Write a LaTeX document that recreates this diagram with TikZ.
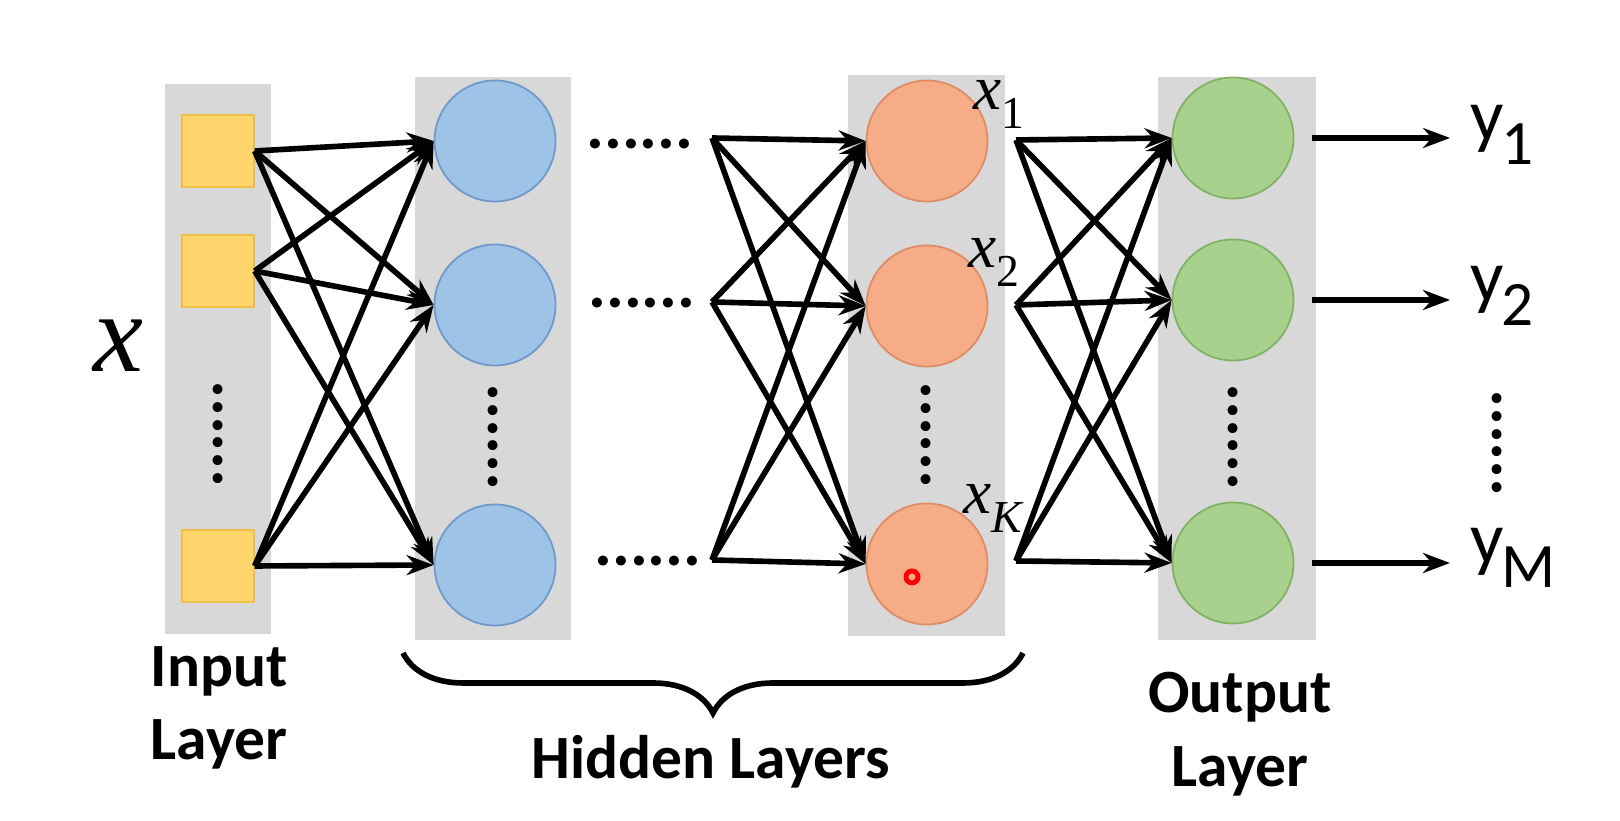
\documentclass[tikz,border=0pt]{standalone}
\usepackage{fontspec}
\setmainfont{Carlito}
\newfontfamily\timesfont{Liberation Serif}
\usetikzlibrary{arrows.meta,decorations.pathreplacing}

\definecolor{panelgray}{RGB}{216,216,216}
\definecolor{infill}{RGB}{255,214,110}
\definecolor{inborder}{RGB}{240,192,70}
\definecolor{bluefill}{RGB}{157,195,230}
\definecolor{blueborder}{RGB}{112,152,202}
\definecolor{orangefill}{RGB}{246,172,135}
\definecolor{orangeborder}{RGB}{222,140,100}
\definecolor{greenfill}{RGB}{169,209,142}
\definecolor{greenborder}{RGB}{128,178,100}

\newcommand{\outsub}[1]{\kern-0.04em\raisebox{-0.32em}{\fontsize{18}{18}\selectfont #1}}
\newcommand{\unitsub}[1]{\raisebox{-0.3em}{\upshape\fontsize{13}{13}\selectfont #1}}

\begin{document}
\begin{tikzpicture}[
    panel/.style={fill=panelgray},
    inunit/.style={
        rectangle,
        draw=inborder,
        fill=infill,
        minimum size=0.72cm,
        inner sep=0pt
    },
    neuron/.style={
        circle,
        minimum size=1.21cm,
        inner sep=0pt,
        line width=0.5pt
    },
    wire/.style={-{Stealth[length=0.27cm,width=0.2cm]}, line width=1.6pt},
    dotrow/.style={font=\bfseries\fontsize{19}{19}\selectfont, inner sep=0pt},
    layername/.style={font=\bfseries\fontsize{17.5}{21}\selectfont, align=center},
    outname/.style={font=\fontsize{21}{21}\selectfont, anchor=base west, inner sep=0pt},
    unitname/.style={font=\timesfont\itshape\fontsize{18}{18}\selectfont, anchor=base west, inner sep=0pt}
]
\useasboundingbox (0,0) rectangle (16.2,8.21);

% grey layer panels
\fill[panel] (1.65,1.87) rectangle (2.71,7.37);
\fill[panel] (4.15,1.81) rectangle (5.71,7.44);
\fill[panel] (8.48,1.85) rectangle (10.05,7.46);
\fill[panel] (11.58,1.81) rectangle (13.16,7.44);

% input layer
\node[font=\timesfont\itshape\fontsize{32}{32}\selectfont] (xin) at (1.18,4.75) {x};
\node[inunit] (in1) at (2.18,6.70) {};
\node[inunit] (in2) at (2.18,5.50) {};
\node[inunit] (in3) at (2.18,2.55) {};
\node[dotrow, rotate=90] (indots) at (2.18,3.87) {......};

% first hidden layer
\node[neuron, draw=blueborder, fill=bluefill] (b1) at (4.95,6.80) {};
\node[neuron, draw=blueborder, fill=bluefill] (b2) at (4.95,5.16) {};
\node[neuron, draw=blueborder, fill=bluefill] (b3) at (4.95,2.56) {};
\node[dotrow, rotate=90] (bdots) at (4.93,3.84) {......};

\node[dotrow] (skip1) at (6.40,6.77) {......};
\node[dotrow] (skip2) at (6.42,5.18) {......};
\node[dotrow] (skip3) at (6.48,2.60) {......};
\coordinate (h1) at (7.12,6.83);
\coordinate (h2) at (7.12,5.19);
\coordinate (h3) at (7.12,2.61);

% last hidden layer
\node[neuron, draw=orangeborder, fill=orangefill] (o1) at (9.27,6.80) {};
\node[neuron, draw=orangeborder, fill=orangefill] (o2) at (9.27,5.15) {};
\node[neuron, draw=orangeborder, fill=orangefill] (o3) at (9.27,2.57) {};
\node[dotrow, rotate=90] (odots) at (9.26,3.86) {......};
\draw[red, line width=1.4pt] (9.12,2.44) circle (0.06);
\node[unitname] (x1) at (9.73,7.11) {x\unitsub{1}};
\node[unitname] (x2) at (9.68,5.53) {x\unitsub{2}};
\node[unitname] (xK) at (9.63,3.07) {x\unitsub{\itshape K}};
\coordinate (s1) at (10.16,6.81);
\coordinate (s2) at (10.16,5.16);
\coordinate (s3) at (10.16,2.60);

% output layer
\node[neuron, draw=greenborder, fill=greenfill] (g1) at (12.33,6.83) {};
\node[neuron, draw=greenborder, fill=greenfill] (g2) at (12.33,5.21) {};
\node[neuron, draw=greenborder, fill=greenfill] (g3) at (12.33,2.58) {};
\node[dotrow, rotate=90] (gdots) at (12.33,3.84) {......};

\node[outname] (y1) at (14.70,6.80) {y\outsub{1}};
\node[outname] (y2) at (14.70,5.19) {y\outsub{2}};
\node[outname] (yM) at (14.70,2.57) {y\outsub{M}};
\node[dotrow, rotate=90] (ydots) at (14.97,3.78) {......};

% connections
\path (in1.east) edge[wire] (b1.west) edge[wire] (b2.west) edge[wire] (b3.west);
\path (in2.east) edge[wire] (b1.west) edge[wire] (b2.west) edge[wire] (b3.west);
\path (in3.east) edge[wire] (b1.west) edge[wire] (b2.west) edge[wire] (b3.west);

\path (h1) edge[wire] (o1.west) edge[wire] (o2.west) edge[wire] (o3.west);
\path (h2) edge[wire] (o1.west) edge[wire] (o2.west) edge[wire] (o3.west);
\path (h3) edge[wire] (o1.west) edge[wire] (o2.west) edge[wire] (o3.west);

\path (s1) edge[wire] (g1.west) edge[wire] (g2.west) edge[wire] (g3.west);
\path (s2) edge[wire] (g1.west) edge[wire] (g2.west) edge[wire] (g3.west);
\path (s3) edge[wire] (g1.west) edge[wire] (g2.west) edge[wire] (g3.west);

\draw[wire, shorten <=0.18cm, shorten >=0.2cm] (g1.east) -- (g1.east -| y1.west);
\draw[wire, shorten <=0.18cm, shorten >=0.2cm] (g2.east) -- (g2.east -| y2.west);
\draw[wire, shorten <=0.18cm, shorten >=0.2cm] (g3.east) -- (g3.east -| yM.west);

% layer names
\draw[decorate, decoration={brace, mirror, amplitude=0.6cm}, line width=1.6pt]
    (4.03,1.68) -- (10.23,1.68);
\node[layername] (inname) at (2.19,1.13) {Input\\Layer};
\node[layername] (hidname) at (7.11,0.59) {Hidden Layers};
\node[layername] (outlayer) at (12.40,0.87) {Output\\Layer};

\end{tikzpicture}
\end{document}
